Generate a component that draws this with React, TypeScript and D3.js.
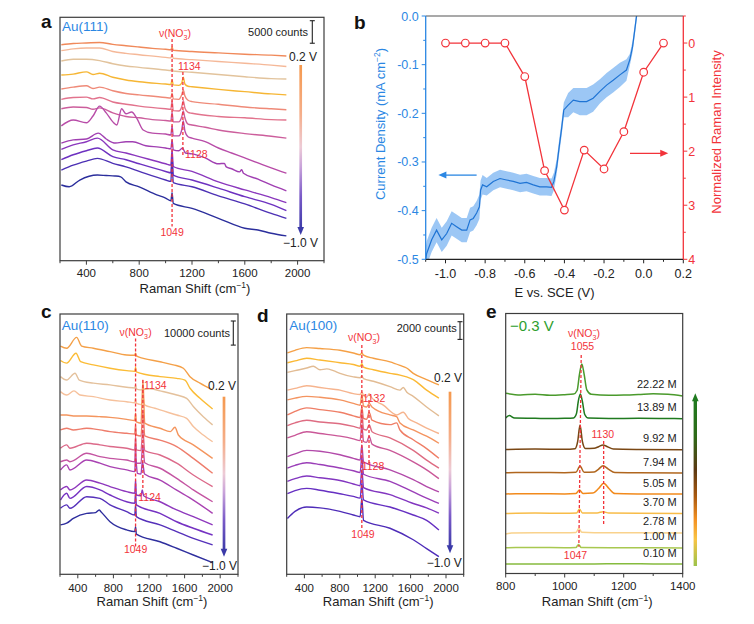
import React from 'react';
import * as d3 from 'd3';

type Pt = [number, number];

const FONT = '"Liberation Sans", Arial, Helvetica, sans-serif';
const RED = '#f2333a';
const BLUE = '#2b87e3';
const INK = '#222';
const FRAME = '#3c3c3c';

const zip = (xs: number[], ys: number[]): Pt[] => xs.map((x, i) => [x, ys[i]] as Pt);

// ---------- (a) Au(111): spectra from 0.2 V (top) to -1.0 V (bottom), counts ----------
const A_X1 = [210, 300, 400, 500, 600, 700, 800, 900, 1000, 1040, 1049, 1058, 1200, 1400, 1600, 1800, 1915];
const A_X2 = [210, 300, 400, 500, 600, 700, 800, 1000, 1040, 1049, 1058, 1200, 1400, 1600, 1800, 1915];
const A_X4 = [210, 300, 400, 450, 500, 600, 700, 800, 1000, 1040, 1049, 1058, 1100, 1122, 1134, 1146, 1170, 1200, 1400, 1600, 1800, 1915];
const A_X7 = [210, 300, 400, 450, 500, 600, 700, 800, 900, 1000, 1040, 1049, 1058, 1100, 1122, 1134, 1146, 1170, 1200, 1300, 1400, 1600, 1800, 1915];
const A_X8 = [210, 300, 400, 450, 500, 550, 600, 630, 667, 700, 743, 780, 830, 900, 1000, 1040, 1049, 1058, 1100, 1122, 1134, 1146, 1170, 1200, 1300, 1400, 1500, 1600, 1700, 1800, 1915];
const A_X9 = [210, 300, 400, 490, 550, 620, 700, 750, 850, 950, 1000, 1040, 1049, 1058, 1100, 1128, 1150, 1200, 1300, 1400, 1445, 1460, 1500, 1560, 1576, 1590, 1700, 1800, 1915];
const A_X10 = [210, 300, 400, 483, 600, 700, 800, 1000, 1040, 1049, 1058, 1200, 1400, 1600, 1800, 1915];
const A_X13 = [210, 270, 350, 483, 550, 617, 660, 700, 800, 933, 1000, 1040, 1049, 1058, 1200, 1400, 1600, 1700, 1800, 1915];

const A_SPECTRA: Pt[][] = [
  zip(A_X1, [47900, 48200, 48300, 48400, 48000, 47700, 47400, 47100, 46900, 46800, 47400, 46700, 46400, 46100, 45800, 45600, 45400]),
  zip(A_X2, [46600, 47000, 47200, 47200, 46400, 46000, 45700, 45100, 45000, 45600, 44900, 44600, 44200, 43800, 43400, 43100]),
  zip(A_X2, [44300, 44700, 44700, 44400, 43700, 43200, 42900, 42300, 42200, 42700, 42100, 41800, 41300, 40800, 40400, 40300]),
  zip(A_X4, [41200, 41400, 41900, 41300, 41600, 40700, 40100, 39700, 39200, 39100, 40100, 39000, 38900, 39400, 40700, 39200, 38700, 38600, 38000, 37500, 37000, 36800]),
  zip(A_X4, [38100, 38500, 38800, 38200, 38500, 37700, 37100, 36800, 36200, 36100, 37200, 35900, 35800, 36800, 37900, 36600, 35600, 35300, 34700, 34100, 33700, 33500]),
  zip(A_X4, [35800, 36200, 36300, 35900, 36200, 35200, 34700, 34300, 33700, 33600, 35500, 33300, 33200, 34100, 35500, 33900, 32900, 32700, 32000, 31700, 31300, 31200]),
  zip(A_X7, [33700, 34100, 34000, 33600, 33900, 32800, 32000, 31700, 31300, 31100, 31000, 33000, 30800, 30800, 31900, 33200, 31700, 30300, 30100, 29600, 29000, 28200, 27600, 27200]),
  zip(A_X8, [29900, 31200, 30600, 32100, 34300, 32800, 30800, 30100, 33700, 32600, 33000, 31700, 29000, 28300, 28100, 27900, 29900, 27700, 27700, 29000, 31000, 28800, 27500, 27200, 26400, 25000, 23900, 22800, 21700, 20600, 19400]),
  zip(A_X9, [26100, 26800, 27000, 28300, 27000, 26100, 26400, 26400, 25500, 25200, 25000, 24800, 26800, 24600, 24400, 25000, 23900, 23700, 22800, 21500, 21600, 20800, 20400, 19700, 20200, 19400, 18100, 16800, 15500]),
  zip(A_X10, [24700, 25700, 26400, 27200, 24600, 23900, 23100, 21500, 21200, 24600, 20900, 19800, 17500, 15700, 14000, 12900]),
  zip(A_X10, [22400, 23500, 24400, 25000, 23100, 22400, 21500, 19800, 19500, 23100, 19000, 17900, 16100, 14200, 12500, 11100]),
  zip(A_X10, [20100, 21200, 22100, 22700, 21600, 20800, 19800, 17900, 17600, 22000, 17300, 16400, 14400, 12600, 10500, 9400]),
  zip(A_X13, [16800, 16400, 17900, 19000, 18900, 18800, 18600, 17500, 16400, 14600, 13900, 13300, 15100, 12700, 11600, 9400, 7200, 6800, 6100, 5500]),
];
const A_COLORS = ['#f0895a', '#f5b898', '#e2c39c', '#f6b634', '#ef8a78', '#e2738d', '#cc5e9c', '#b84ca8', '#a03fb2', '#8a37bd', '#6d31c0', '#4c30b4', '#2b2e9c'];

// ---------- (c) Au(110) ----------
const C_X7 = [205, 275, 312, 500, 649, 762, 949, 1040, 1049, 1058, 1110, 1130, 1152, 1324, 1511, 1698, 1915];
const C_X11 = [205, 275, 312, 500, 649, 762, 949, 1040, 1049, 1058, 1324, 1511, 1698, 1915];
const C_SPECTRA: Pt[][] = [
  zip([205, 275, 387, 443, 575, 762, 949, 1040, 1049, 1058, 1136, 1324, 1473, 1586, 1661, 1773, 1915],
    [94700, 93800, 98300, 94700, 93800, 92400, 91000, 90900, 91700, 90600, 89600, 88200, 86900, 85500, 82000, 79300, 76500]),
  zip([205, 275, 380, 432, 575, 762, 949, 1040, 1049, 1058, 1324, 1511, 1604, 1661, 1773, 1915],
    [88700, 87600, 91700, 88200, 86900, 85500, 84500, 84200, 85900, 84000, 82000, 81300, 80600, 77200, 73000, 68600]),
  zip([205, 275, 369, 417, 575, 762, 949, 1040, 1049, 1058, 1099, 1211, 1324, 1511, 1623, 1698, 1810, 1915],
    [82000, 80600, 83400, 80600, 79300, 78600, 77600, 77300, 78600, 76900, 76500, 77000, 76100, 74400, 73000, 69600, 65400, 62000]),
  zip([205, 275, 357, 425, 575, 762, 949, 1040, 1049, 1058, 1115, 1132, 1150, 1267, 1324, 1511, 1623, 1698, 1810, 1915],
    [75800, 74400, 76100, 74400, 73700, 72300, 71600, 71200, 73000, 71000, 70400, 73700, 70300, 68900, 68200, 66100, 64700, 61300, 57800, 55000]),
  zip([205, 275, 350, 500, 649, 762, 949, 1040, 1049, 1058, 1110, 1132, 1152, 1324, 1440, 1492, 1530, 1698, 1915],
    [66100, 66100, 65700, 65700, 65400, 65100, 64300, 63800, 66800, 63200, 62700, 80600, 62700, 60600, 59200, 61000, 57800, 53700, 48100]),
  zip([205, 275, 350, 500, 649, 762, 949, 1040, 1049, 1058, 1110, 1132, 1152, 1324, 1511, 1698, 1915],
    [59900, 60600, 59900, 60600, 59900, 59200, 58500, 58200, 62000, 57800, 57400, 68200, 57400, 55700, 53000, 48100, 41900]),
  zip(C_X7, [52300, 53700, 52300, 54400, 53700, 53000, 52300, 51600, 57100, 51600, 51300, 59900, 51300, 49500, 46100, 41200, 36400]),
  zip(C_X7, [46700, 47400, 46700, 50200, 48800, 48100, 47400, 46700, 53700, 46100, 46100, 53700, 46300, 44000, 39800, 35000, 30100]),
  zip([205, 275, 312, 500, 649, 762, 949, 1040, 1049, 1070, 1110, 1126, 1150, 1324, 1511, 1698, 1915],
    [43300, 45400, 43300, 47400, 46100, 44700, 43300, 42600, 48100, 41900, 41600, 46700, 41600, 39100, 34900, 30800, 25300]),
  zip([205, 275, 312, 500, 649, 762, 949, 1040, 1049, 1058, 1110, 1124, 1140, 1324, 1511, 1698, 1915],
    [35000, 36400, 35000, 39100, 37800, 36400, 34300, 33600, 39100, 32900, 32600, 35000, 32600, 30100, 26700, 23900, 20500]),
  zip(C_X11, [30800, 33600, 31500, 36400, 35000, 32900, 30100, 29500, 33600, 28800, 25300, 21800, 19100, 16300]),
  zip(C_X11, [27400, 28800, 27400, 32200, 31500, 28800, 26000, 24600, 28800, 23900, 20500, 17700, 14900, 12200]),
  zip([205, 275, 350, 500, 600, 640, 660, 762, 949, 1040, 1049, 1058, 1324, 1511, 1698, 1915],
    [20500, 21200, 23200, 25300, 25600, 26700, 26000, 21800, 18400, 17700, 19800, 16700, 13500, 10800, 8000, 4800]),
];
const C_COLORS = ['#f4a048', '#fbbc36', '#e4c19c', '#f6c19c', '#f4955e', '#ee7d6c', '#dc6a8a', '#c455a2', '#a942b2', '#8e38bd', '#7532c2', '#5530ba', '#2f2f9e'];

// ---------- (d) Au(100) ----------
const D_X1 = [208, 294, 426, 576, 802, 953, 1030, 1049, 1068, 1179, 1367, 1480, 1555, 1630, 1781, 1920];
const D_X5 = [208, 294, 426, 576, 802, 953, 1030, 1049, 1068, 1103, 1132, 1164, 1367, 1442, 1480, 1630, 1781, 1920];
const D_X7 = [208, 294, 426, 576, 802, 953, 1030, 1049, 1068, 1103, 1132, 1164, 1367, 1630, 1781, 1920];
const D_X9 = [208, 294, 426, 576, 802, 953, 1030, 1049, 1068, 1367, 1630, 1781, 1920];
const D_SPECTRA: Pt[][] = [
  zip(D_X1, [25000, 25300, 25600, 25500, 25300, 25000, 24800, 25000, 24750, 24400, 24000, 23600, 23300, 22700, 22000, 21400]),
  zip(D_X1, [23900, 24100, 24400, 24200, 23900, 23700, 23500, 23800, 23400, 23100, 22700, 22500, 22300, 22000, 20800, 19900]),
  zip([208, 294, 426, 501, 576, 652, 727, 802, 953, 1030, 1049, 1068, 1179, 1367, 1480, 1517, 1555, 1630, 1781, 1920],
    [22800, 23000, 23300, 23500, 23100, 23200, 23000, 22700, 22300, 22200, 22400, 22100, 21800, 21200, 20800, 21100, 20600, 20100, 18900, 17900]),
  zip([208, 294, 426, 576, 727, 802, 953, 1030, 1049, 1068, 1103, 1132, 1164, 1292, 1442, 1517, 1574, 1668, 1781, 1920],
    [20800, 21000, 21300, 21100, 20900, 20800, 20400, 20300, 20600, 20200, 20000, 20400, 19900, 19100, 18000, 18300, 17600, 17100, 16500, 15900]),
  zip(D_X5, [19700, 19900, 20100, 20000, 19700, 19300, 19100, 20300, 19000, 18900, 19300, 18900, 18000, 17800, 17100, 16300, 15600, 14800]),
  zip(D_X5, [18000, 18400, 18800, 18600, 18300, 17900, 17700, 18900, 17600, 17500, 18300, 17400, 16900, 17100, 16300, 15200, 14200, 13100]),
  zip(D_X7, [16800, 17100, 17400, 17200, 17000, 16700, 16500, 18300, 16400, 16300, 16900, 16100, 15400, 14000, 12900, 12000]),
  zip(D_X7, [15400, 15700, 16100, 15900, 15600, 15300, 15100, 16900, 15000, 14900, 15600, 14700, 14000, 12700, 11800, 10800]),
  zip(D_X9, [13300, 13600, 14000, 13900, 13500, 13100, 12900, 14600, 12700, 11800, 10700, 9900, 9300]),
  zip(D_X9, [12000, 12300, 12600, 12400, 12000, 11700, 11500, 13300, 11300, 10500, 9300, 8600, 8000]),
  zip(D_X9, [10500, 10800, 11100, 10900, 10600, 10200, 10000, 11800, 9800, 9000, 8000, 7500, 6900]),
  zip(D_X9, [9100, 9450, 9700, 9500, 9100, 8800, 8600, 10300, 8400, 7600, 6700, 6100, 5000]),
  zip(D_X9, [6300, 7100, 7600, 7500, 7100, 6700, 6500, 8600, 6100, 5200, 3900, 2900, 2000]),
];
const D_COLORS = ['#f5a046', '#fbb935', '#e2bc94', '#f6b48e', '#f49460', '#ef7e66', '#de6c82', '#ca5898', '#b24aaa', '#9a3eb8', '#8236c0', '#6630c2', '#4e2cb8'];

// ---------- (e) concentration series at -0.3 V, a.u. ----------
const E_LABELS = ['22.22 M', '13.89 M', '9.92 M', '7.94 M', '5.05 M', '3.70 M', '2.78 M', '1.00 M', '0.10 M'];
const E_SPECTRA: Pt[][] = [
  [[800, 9.01], [850, 8.93], [900, 8.96], [950, 8.91], [1000, 8.94], [1030, 8.97], [1042, 9.15], [1050, 9.95], [1058, 10.48], [1066, 9.95], [1075, 9.18], [1090, 8.96], [1150, 8.91], [1200, 8.92], [1250, 8.95], [1300, 8.99], [1350, 8.96], [1400, 8.88]],
  [[800, 7.78], [812, 7.9], [830, 7.77], [900, 7.76], [950, 7.75], [1000, 7.76], [1030, 7.78], [1040, 8.0], [1046, 8.6], [1053, 8.97], [1060, 8.6], [1068, 7.95], [1080, 7.77], [1150, 7.75], [1250, 7.76], [1350, 7.75], [1400, 7.74]],
  [[800, 6.2], [900, 6.22], [1000, 6.21], [1035, 6.24], [1044, 6.6], [1052, 7.42], [1060, 6.6], [1070, 6.25], [1100, 6.26], [1115, 6.34], [1130, 6.43], [1145, 6.34], [1165, 6.22], [1250, 6.2], [1400, 6.19]],
  [[800, 5.04], [900, 5.05], [1000, 5.04], [1038, 5.06], [1052, 5.37], [1066, 5.06], [1100, 5.08], [1115, 5.22], [1130, 5.39], [1148, 5.22], [1170, 5.05], [1250, 5.04], [1400, 5.02]],
  [[800, 3.98], [900, 3.99], [1000, 3.98], [1038, 4.0], [1050, 4.17], [1062, 4.0], [1095, 4.02], [1115, 4.25], [1132, 4.51], [1150, 4.25], [1170, 4.0], [1250, 3.98], [1400, 3.97]],
  [[800, 3.0], [900, 3.02], [1000, 3.01], [1040, 3.02], [1050, 3.22], [1060, 3.03], [1110, 3.03], [1130, 3.09], [1150, 3.02], [1250, 3.01], [1400, 3.0]],
  [[800, 1.98], [820, 2.02], [900, 2.04], [1000, 2.04], [1038, 2.05], [1048, 2.25], [1058, 2.06], [1100, 2.04], [1250, 2.04], [1400, 2.03]],
  [[800, 1.29], [900, 1.3], [1000, 1.29], [1038, 1.3], [1047, 1.45], [1056, 1.3], [1200, 1.29], [1400, 1.28]],
  [[800, 0.48], [900, 0.48], [1000, 0.47], [1100, 0.48], [1200, 0.49], [1300, 0.48], [1400, 0.47]],
];
const E_COLORS = ['#4a9a2c', '#1f7a1f', '#7a4714', '#b0661e', '#f28a1c', '#f8bc48', '#f9d28c', '#a8c850', '#86bb3e'];

// ---------- (b) current density and normalized Raman intensity ----------
const CV_E = [-1.1, -1.095, -1.07, -1.045, -1.019, -0.994, -0.969, -0.944, -0.918, -0.893, -0.876, -0.86, -0.843, -0.829, -0.823, -0.813, -0.792, -0.759, -0.725, -0.692, -0.658, -0.624, -0.591, -0.557, -0.524, -0.49, -0.465, -0.453, -0.439, -0.426, -0.414, -0.403, -0.381, -0.355, -0.322, -0.288, -0.255, -0.221, -0.187, -0.154, -0.12, -0.087, -0.07, -0.056, -0.045, -0.036, -0.03];
const CV_J = [-0.5, -0.488, -0.46, -0.44, -0.46, -0.447, -0.426, -0.433, -0.44, -0.44, -0.419, -0.416, -0.405, -0.392, -0.358, -0.347, -0.351, -0.34, -0.334, -0.337, -0.34, -0.344, -0.342, -0.347, -0.351, -0.351, -0.352, -0.34, -0.31, -0.268, -0.231, -0.193, -0.183, -0.173, -0.176, -0.176, -0.169, -0.155, -0.142, -0.132, -0.121, -0.111, -0.09, -0.063, -0.029, 0.0, 0.02];
const CV_NOISE = [0.025, 0.025, 0.025, 0.025, 0.025, 0.025, 0.025, 0.025, 0.025, 0.025, 0.025, 0.025, 0.025, 0.025, 0.02, 0.02, 0.018, 0.018, 0.018, 0.018, 0.018, 0.018, 0.018, 0.018, 0.018, 0.018, 0.018, 0.018, 0.015, 0.015, 0.015, 0.015, 0.025, 0.025, 0.028, 0.028, 0.028, 0.025, 0.025, 0.025, 0.025, 0.022, 0.012, 0.012, 0.012, 0.012, 0.012];
const RAMAN_E = [-1.0, -0.9, -0.8, -0.7, -0.6, -0.5, -0.4, -0.3, -0.2, -0.1, 0.0, 0.1];
const RAMAN_I = [0, 0, 0, 0, 0.62, 2.36, 3.09, 1.98, 2.33, 1.64, 0.54, 0];

const SHIFT_MAJOR = [400, 800, 1200, 1600, 2000];
const SHIFT_MINOR = [200, 600, 1000, 1400, 1800, 2200];
const E_MAJOR = [800, 1000, 1200, 1400];
const E_MINOR = [900, 1100, 1300];
const B_X_MAJOR = [-1.0, -0.8, -0.6, -0.4, -0.2, 0.0, 0.2];
const B_X_MINOR = [-1.1, -0.9, -0.7, -0.5, -0.3, -0.1, 0.1];
const B_J_MAJOR = [0, -0.1, -0.2, -0.3, -0.4, -0.5];
const B_J_MINOR = [-0.05, -0.15, -0.25, -0.35, -0.45];
const B_R_MAJOR = [0, 1, 2, 3, 4];
const B_R_MINOR = [-0.5, 0.5, 1.5, 2.5, 3.5];

// ---------- scales ----------
const xA = d3.scaleLinear().domain([200, 2200]).range([60, 324]);
const yA = d3.scaleLinear().domain([0, 54000]).range([260.7, 17.3]);
const xC = d3.scaleLinear().domain([200, 2200]).range([60, 238]);
const yC = d3.scaleLinear().domain([0, 108000]).range([574.3, 314]);
const xD = d3.scaleLinear().domain([200, 2200]).range([286.7, 463.7]);
const yD = d3.scaleLinear().domain([0, 29400]).range([574.3, 314]);
const xE = d3.scaleLinear().domain([800, 1400]).range([505.7, 682.7]);
const yE = d3.scaleLinear().domain([0, 13]).range([573.5, 313.5]);
const xB = d3.scaleLinear().domain([-1.1, 0.2]).range([425.7, 683.3]);
const yJ = d3.scaleLinear().domain([-0.5, 0]).range([259.3, 16]);
const yR = d3.scaleLinear().domain([-0.5, 4]).range([16, 259.3]);

const fmt1 = (v: number) => (Math.abs(v) < 1e-9 ? '0.0' : v.toFixed(1));

function frameOf(x: any, y: any) {
  const [x0, x1] = x.range();
  const [r0, r1] = y.range();
  return { x0, x1, yt: Math.min(r0, r1), yb: Math.max(r0, r1) };
}

function RamanAxes({ x, y, major, minor, tickY, titleY }: any) {
  const { x0, x1, yt, yb } = frameOf(x, y);
  return (
    <g>
      <rect x={x0} y={yt} width={x1 - x0} height={yb - yt} fill="none" stroke={FRAME} strokeWidth={1.2} />
      {major.map((t: number) => (
        <line key={`M${t}`} x1={x(t)} x2={x(t)} y1={yb} y2={yb + 4} stroke={FRAME} strokeWidth={1} />
      ))}
      {minor.map((t: number) => (
        <line key={`m${t}`} x1={x(t)} x2={x(t)} y1={yb} y2={yb + 2.5} stroke={FRAME} strokeWidth={1} />
      ))}
      {major.map((t: number) => (
        <text key={`L${t}`} x={x(t)} y={tickY} textAnchor="middle" fontSize={11.5} fill={INK}>{t}</text>
      ))}
      <text x={(x0 + x1) / 2 + 3} y={titleY} textAnchor="middle" fontSize={13} fill={INK}>
        Raman Shift (cm<tspan dy={-5} fontSize={8.5}>−1</tspan><tspan dy={5}>)</tspan>
      </text>
    </g>
  );
}

function SpectraLines({ x, y, spectra, colors, clipId, width = 1.4 }: any) {
  const line = d3.line<Pt>().x((d) => x(d[0])).y((d) => y(d[1])).curve(d3.curveMonotoneX);
  return (
    <g clipPath={`url(#${clipId})`}>
      {spectra.map((s: Pt[], i: number) => (
        <path key={i} d={line(s) || ''} fill="none" stroke={colors[i]} strokeWidth={width} strokeLinejoin="round" />
      ))}
    </g>
  );
}

function NuLabel({ x, y }: any) {
  return (
    <text x={x} y={y} textAnchor="middle" fontSize={10.5} fill={RED}>
      ν(NO<tspan dy={2.5} fontSize={7}>3</tspan>
      <tspan dx={-3.8} dy={-7} fontSize={7}>−</tspan>
      <tspan dy={4.5}>)</tspan>
    </text>
  );
}

function Dashed({ x1, x2, y1, y2 }: any) {
  return <line x1={x1} x2={x2} y1={y1} y2={y2} stroke={RED} strokeWidth={1.3} strokeDasharray="3,2" />;
}

function RedText({ x, y, anchor = 'start', children }: any) {
  return (
    <text x={x} y={y} textAnchor={anchor} fontSize={10.5} fill={RED}>{children}</text>
  );
}

function ScaleBar({ x, yTop, y, counts, textRight, textY }: any) {
  const h = y(0) - y(counts);
  return (
    <g stroke={INK} strokeWidth={1.1}>
      <line x1={x} x2={x} y1={yTop} y2={yTop + h} />
      <line x1={x - 2.5} x2={x + 2.5} y1={yTop} y2={yTop} />
      <line x1={x - 2.5} x2={x + 2.5} y1={yTop + h} y2={yTop + h} />
      <text x={textRight} y={textY} textAnchor="end" fontSize={11} fill={INK} stroke="none">{counts} counts</text>
    </g>
  );
}

function PotentialArrow({ x, y0, y1, grad, up = false, head, w = 2.7 }: any) {
  const tip = up ? y0 : y1;
  const base = up ? y0 + 8 : y1 - 8;
  const barTop = up ? y0 + 6 : y0;
  const barBottom = up ? y1 : y1 - 6;
  return (
    <g>
      <rect x={x - w / 2} y={barTop} width={w} height={barBottom - barTop} fill={`url(#${grad})`} />
      <polygon points={`${x - 3.3},${base} ${x + 3.3},${base} ${x},${tip}`} fill={head} />
    </g>
  );
}

function PanelLetter({ x, y, children }: any) {
  return <text x={x} y={y} fontSize={19} fontWeight="bold" fill="#111">{children}</text>;
}

function PanelB() {
  const idx = CV_E.map((_, i) => i);
  const area = d3
    .area<number>()
    .x((i) => xB(CV_E[i]))
    .y0((i) => yJ(CV_J[i] - CV_NOISE[i]))
    .y1((i) => yJ(CV_J[i] + CV_NOISE[i]));
  const cvLine = d3.line<number>().x((i) => xB(CV_E[i])).y((i) => yJ(CV_J[i]));
  const ridx = RAMAN_E.map((_, i) => i);
  const rLine = d3.line<number>().x((i) => xB(RAMAN_E[i])).y((i) => yR(RAMAN_I[i]));
  const { x0, x1, yt, yb } = frameOf(xB, yJ);
  const redY = yR(2.04);
  const blueY = yJ(-0.327);
  return (
    <g>
      <g clipPath="url(#clipB)">
        <path d={area(idx) || ''} fill="#5aa2ee" opacity={0.6} />
        <path d={cvLine(idx) || ''} fill="none" stroke="#1f74d4" strokeWidth={1.2} />
      </g>
      <path d={rLine(ridx) || ''} fill="none" stroke={RED} strokeWidth={1.3} />
      {ridx.map((i) => (
        <circle key={i} cx={xB(RAMAN_E[i])} cy={yR(RAMAN_I[i])} r={3.8} fill="#fff" stroke={RED} strokeWidth={1.2} />
      ))}
      {/* frame: top, bottom, left (current), right (Raman) */}
      <line x1={x0} x2={x1} y1={yt} y2={yt} stroke="#555" strokeWidth={1.2} />
      <line x1={x0} x2={x1} y1={yb} y2={yb} stroke={INK} strokeWidth={1.2} />
      <line x1={x0} x2={x0} y1={yt} y2={yb} stroke={BLUE} strokeWidth={1.3} />
      <line x1={x1} x2={x1} y1={yt} y2={yb} stroke={RED} strokeWidth={1.3} />
      {B_X_MAJOR.map((t) => (
        <line key={`bx${t}`} x1={xB(t)} x2={xB(t)} y1={yb} y2={yb + 4} stroke={INK} strokeWidth={1} />
      ))}
      {B_X_MINOR.map((t) => (
        <line key={`bxm${t}`} x1={xB(t)} x2={xB(t)} y1={yb} y2={yb + 2.5} stroke={INK} strokeWidth={1} />
      ))}
      {B_X_MAJOR.map((t) => (
        <text key={`bxl${t}`} x={xB(t)} y={277.5} textAnchor="middle" fontSize={12.5} fill={INK}>{fmt1(t)}</text>
      ))}
      {B_J_MAJOR.map((t) => (
        <line key={`bj${t}`} x1={x0 - 4} x2={x0} y1={yJ(t)} y2={yJ(t)} stroke={BLUE} strokeWidth={1} />
      ))}
      {B_J_MINOR.map((t) => (
        <line key={`bjm${t}`} x1={x0 - 2.5} x2={x0} y1={yJ(t)} y2={yJ(t)} stroke={BLUE} strokeWidth={1} />
      ))}
      {B_J_MAJOR.map((t) => (
        <text key={`bjl${t}`} x={x0 - 7} y={yJ(t) + 4.5} textAnchor="end" fontSize={12.5} fill={BLUE}>{fmt1(t)}</text>
      ))}
      {B_R_MAJOR.map((t) => (
        <line key={`br${t}`} x1={x1} x2={x1 + 4} y1={yR(t)} y2={yR(t)} stroke={RED} strokeWidth={1} />
      ))}
      {B_R_MINOR.map((t) => (
        <line key={`brm${t}`} x1={x1} x2={x1 + 2.5} y1={yR(t)} y2={yR(t)} stroke={RED} strokeWidth={1} />
      ))}
      {B_R_MAJOR.map((t) => (
        <text key={`brl${t}`} x={x1 + 5} y={yR(t) + 4.5} fontSize={12.5} fill={RED}>{t}</text>
      ))}
      <text transform="translate(384.5,124) rotate(-90)" textAnchor="middle" fontSize={13} fill={BLUE}>
        Current Density (mA cm<tspan dy={-5} fontSize={8.5}>−2</tspan><tspan dy={5}>)</tspan>
      </text>
      <text transform="translate(720.5,132) rotate(-90)" textAnchor="middle" fontSize={13} fill={RED}>
        Normalized Raman Intensity
      </text>
      <text x={(x0 + x1) / 2} y={297} textAnchor="middle" fontSize={13} fill={INK}>E vs. SCE (V)</text>
      {/* direction arrows */}
      <line x1={xB(-0.069)} x2={xB(0.124) - 7} y1={redY} y2={redY} stroke={RED} strokeWidth={1.3} />
      <polygon points={`${xB(0.124)},${redY} ${xB(0.124) - 8},${redY - 3.5} ${xB(0.124) - 8},${redY + 3.5}`} fill={RED} />
      <line x1={xB(-0.843)} x2={xB(-1.036) + 7} y1={blueY} y2={blueY} stroke={BLUE} strokeWidth={1.3} />
      <polygon points={`${xB(-1.036)},${blueY} ${xB(-1.036) + 8},${blueY - 3.5} ${xB(-1.036) + 8},${blueY + 3.5}`} fill={BLUE} />
    </g>
  );
}

function PanelE() {
  const { x1 } = frameOf(xE, yE);
  return (
    <g>
      <SpectraLines x={xE} y={yE} spectra={E_SPECTRA} colors={E_COLORS} clipId="clipE" width={1.5} />
      <RamanAxes x={xE} y={yE} major={E_MAJOR} minor={E_MINOR} tickY={589.5} titleY={606} />
      {E_SPECTRA.map((s, i) => (
        <text key={i} x={x1 - 6} y={yE(s[s.length - 1][1]) - 7.5} textAnchor="end" fontSize={11} fill={INK}>{E_LABELS[i]}</text>
      ))}
      <text x={510} y={331} fontSize={15} fill="#2e9e2e">−0.3 V</text>
      <NuLabel x={584} y={337} />
      <RedText x={582.5} y={350} anchor="middle">1055</RedText>
      <Dashed x1={xE(1056)} x2={xE(1048)} y1={355} y2={546.7} />
      <RedText x={591.5} y={438.3}>1130</RedText>
      <Dashed x1={xE(1132)} x2={xE(1132)} y1={441} y2={525} />
      <RedText x={575.5} y={559.3} anchor="middle">1047</RedText>
      <PotentialArrow x={695.3} y0={393.3} y1={566} grad="gradConc" up head="#1f7a1f" w={3.4} />
    </g>
  );
}

export default function App() {
  const clipRect = (id: string, x: any, y: any) => {
    const { x0, x1, yt, yb } = frameOf(x, y);
    return (
      <clipPath id={id} key={id}>
        <rect x={x0} y={yt} width={x1 - x0} height={yb - yt} />
      </clipPath>
    );
  };
  return (
    <svg
      width={754}
      height={624}
      viewBox="0 0 754 624"
      style={{ position: 'absolute', left: 0, top: 0, background: '#fff' }}
      fontFamily={FONT}
    >
      <defs>
        {clipRect('clipA', xA, yA)}
        {clipRect('clipC', xC, yC)}
        {clipRect('clipD', xD, yD)}
        {clipRect('clipE', xE, yE)}
        {clipRect('clipB', xB, yJ)}
        <linearGradient id="gradPot" x1="0" y1="0" x2="0" y2="1">
          <stop offset="0" stopColor="#f5994e" />
          <stop offset="0.3" stopColor="#f5ae8a" />
          <stop offset="0.5" stopColor="#edcbd6" />
          <stop offset="0.62" stopColor="#c9a3da" />
          <stop offset="0.8" stopColor="#7a5ac8" />
          <stop offset="1" stopColor="#3b3aa8" />
        </linearGradient>
        <linearGradient id="gradConc" x1="0" y1="0" x2="0" y2="1">
          <stop offset="0" stopColor="#1f7a1f" />
          <stop offset="0.22" stopColor="#2e6a18" />
          <stop offset="0.42" stopColor="#5a3812" />
          <stop offset="0.58" stopColor="#a8580f" />
          <stop offset="0.72" stopColor="#f39022" />
          <stop offset="0.84" stopColor="#f9c444" />
          <stop offset="1" stopColor="#9cc24a" />
        </linearGradient>
      </defs>
      <rect width={754} height={624} fill="#fff" />

      {/* (a) */}
      <PanelLetter x={41} y={28.3}>a</PanelLetter>
      <SpectraLines x={xA} y={yA} spectra={A_SPECTRA} colors={A_COLORS} clipId="clipA" />
      <RamanAxes x={xA} y={yA} major={SHIFT_MAJOR} minor={SHIFT_MINOR} tickY={277} titleY={293} />
      <text x={62} y={31} fontSize={13.5} fill={BLUE}>Au(111)</text>
      <NuLabel x={175} y={37} />
      <RedText x={178} y={70}>1134</RedText>
      <RedText x={185} y={158}>1128</RedText>
      <RedText x={xA(1049)} y={236} anchor="middle">1049</RedText>
      <Dashed x1={xA(1049)} x2={xA(1049)} y1={39} y2={226.5} />
      <Dashed x1={xA(1131)} x2={xA(1131)} y1={72} y2={156.5} />
      <ScaleBar x={312.3} yTop={20.7} y={yA} counts={5000} textRight={308} textY={35.7} />
      <text x={317} y={61} textAnchor="end" fontSize={12} fill={INK}>0.2 V</text>
      <text x={318} y={247} textAnchor="end" fontSize={12} fill={INK}>−1.0 V</text>
      <PotentialArrow x={300.7} y0={65} y1={235} grad="gradPot" head="#3b3aa8" />

      {/* (b) */}
      <PanelLetter x={354} y={29.3}>b</PanelLetter>
      <PanelB />

      {/* (c) */}
      <PanelLetter x={41} y={318}>c</PanelLetter>
      <SpectraLines x={xC} y={yC} spectra={C_SPECTRA} colors={C_COLORS} clipId="clipC" />
      <RamanAxes x={xC} y={yC} major={SHIFT_MAJOR} minor={SHIFT_MINOR} tickY={592} titleY={606} />
      <text x={61.7} y={330} fontSize={13.5} fill={BLUE}>Au(110)</text>
      <NuLabel x={xC(1049)} y={336} />
      <RedText x={144} y={389}>1134</RedText>
      <RedText x={138.3} y={500.7}>1124</RedText>
      <RedText x={xC(1049)} y={553.3} anchor="middle">1049</RedText>
      <Dashed x1={xC(1049)} x2={xC(1049)} y1={338.5} y2={546.5} />
      <Dashed x1={xC(1131)} x2={xC(1131)} y1={380} y2={490} />
      <ScaleBar x={233.3} yTop={321} y={yC} counts={10000} textRight={230} textY={336.7} />
      <text x={236} y={390} textAnchor="end" fontSize={12} fill={INK}>0.2 V</text>
      <text x={237} y={570} textAnchor="end" fontSize={12} fill={INK}>−1.0 V</text>
      <PotentialArrow x={224} y0={396.7} y1={556.7} grad="gradPot" head="#3b3aa8" />

      {/* (d) */}
      <PanelLetter x={257} y={321.7}>d</PanelLetter>
      <SpectraLines x={xD} y={yD} spectra={D_SPECTRA} colors={D_COLORS} clipId="clipD" />
      <RamanAxes x={xD} y={yD} major={SHIFT_MAJOR} minor={SHIFT_MINOR} tickY={592} titleY={606} />
      <text x={289.3} y={330} fontSize={13.5} fill={BLUE}>Au(100)</text>
      <NuLabel x={364} y={341} />
      <RedText x={362.7} y={401.7}>1132</RedText>
      <RedText x={361.7} y={470}>1128</RedText>
      <RedText x={363} y={538.3} anchor="middle">1049</RedText>
      <Dashed x1={xD(1049)} x2={xD(1049)} y1={345} y2={530} />
      <Dashed x1={xD(1130)} x2={xD(1130)} y1={400} y2={465} />
      <ScaleBar x={460} yTop={321.7} y={yD} counts={2000} textRight={456.7} textY={331.7} />
      <text x={462} y={381.7} textAnchor="end" fontSize={12} fill={INK}>0.2 V</text>
      <text x={461.7} y={566.7} textAnchor="end" fontSize={12} fill={INK}>−1.0 V</text>
      <PotentialArrow x={450} y0={391.7} y1={553.3} grad="gradPot" head="#3b3aa8" />

      {/* (e) */}
      <PanelLetter x={486} y={318.3}>e</PanelLetter>
      <PanelE />
    </svg>
  );
}
